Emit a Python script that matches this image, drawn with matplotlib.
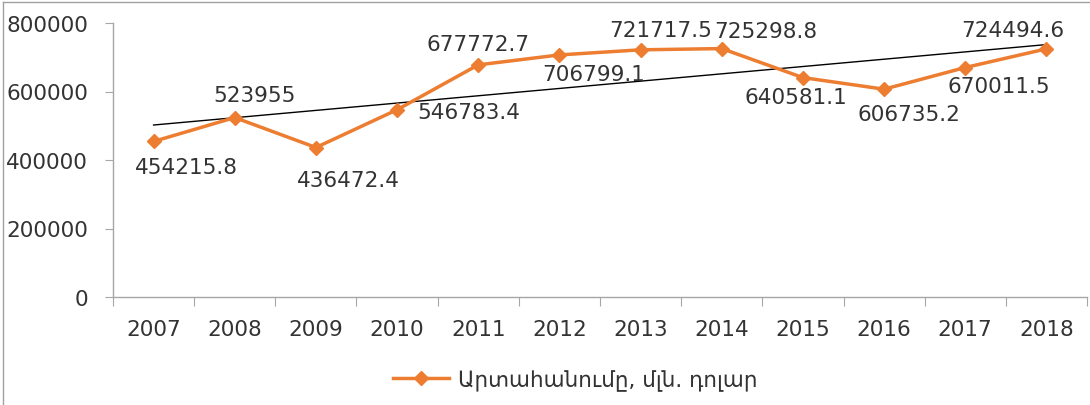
import matplotlib.pyplot as plt
import numpy as np
from matplotlib.lines import Line2D

plt.rcParams['font.family'] = ['DejaVu Sans']

# data
years = ['2007', '2008', '2009', '2010', '2011', '2012',
         '2013', '2014', '2015', '2016', '2017', '2018']
export = [454215.8, 523955, 436472.4, 546783.4, 677772.7, 706799.1,
          721717.5, 725298.8, 640581.1, 606735.2, 670011.5, 724494.6]
value_labels = ['454215.8', '523955', '436472.4', '546783.4', '677772.7', '706799.1',
                '721717.5', '725298.8', '640581.1', '606735.2', '670011.5', '724494.6']
series_name = 'Արտահանումը, մլն. դոլար'

# label offsets in pixels (dx, dy), dy positive = up
offsets = [(33, -26), (20, 23), (33, -32), (72, -2), (0, 21), (34, -19),
           (20, 20), (44, 18), (-7, -19), (25, -25), (34, -18), (-34, 19)]

orange = '#ED7D31'
txt = '#333333'
axis_gray = '#A6A6A6'
fs = 15.5

fig = plt.figure(figsize=(10.9, 4.06), dpi=100)
ax = fig.add_axes([113 / 1090, 1 - 298 / 406, (1087 - 113) / 1090, (298 - 24) / 406])

x = np.arange(len(years))
ax.plot(x, export, color=orange, lw=2.5, marker='D', ms=7, zorder=3)

# linear trend line
k, b = np.polyfit(x, export, 1)
ax.plot(x, k * x + b, color='black', lw=1, zorder=2)

for i, (v, s) in enumerate(zip(export, value_labels)):
    dx, dy = offsets[i]
    ax.annotate(s, (x[i], v), xytext=(dx * 0.72, dy * 0.72), textcoords='offset points',
                ha='center', va='center', fontsize=fs, color=txt, zorder=4)

ax.set_xlim(-0.5, len(years) - 0.5)
ax.set_ylim(0, 800000)
ax.set_yticks([0, 200000, 400000, 600000, 800000])
ax.set_yticklabels(['0', '200000', '400000', '600000', '800000'])

# ticks at category boundaries, labels at centers
ax.set_xticks(np.arange(-0.5, len(years), 1))
ax.set_xticklabels([])
ax.set_xticks(x, minor=True)
ax.set_xticklabels(years, minor=True)
ax.tick_params(axis='x', which='minor', length=0, pad=16, labelsize=fs, labelcolor=txt)
ax.tick_params(axis='x', which='major', length=6.5, color=axis_gray, direction='out')
ax.tick_params(axis='y', length=6, color=axis_gray, pad=12, labelsize=fs, labelcolor=txt)

for side in ['top', 'right']:
    ax.spines[side].set_visible(False)
for side in ['left', 'bottom']:
    ax.spines[side].set_color(axis_gray)
    ax.spines[side].set_linewidth(1)

handle = Line2D([], [], color=orange, lw=2.5, marker='D', ms=7)
fig.legend([handle], [series_name], loc='center', bbox_to_anchor=(575 / 1090, 1 - 381 / 406),
           frameon=False, fontsize=fs, labelcolor=txt, handlelength=2.6, handletextpad=0.4)

# chart area border (left and top visible)
fig.add_artist(Line2D([3 / 1090, 3 / 1090], [0, 1 - 3 / 406], transform=fig.transFigure,
                      color='#A0A0A0', lw=1))
fig.add_artist(Line2D([3 / 1090, 1], [1 - 3 / 406, 1 - 3 / 406], transform=fig.transFigure,
                      color='#A0A0A0', lw=1))

fig.savefig('out.png', dpi=100)
